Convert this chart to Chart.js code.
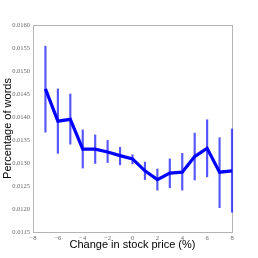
<!DOCTYPE html>
<html>
<head>
<meta charset="utf-8">
<script src="https://cdn.jsdelivr.net/npm/chart.js@4"></script>
<style>
  html, body { margin: 0; padding: 0; background: #fff; }
  #chart_box { width: 258px; height: 258px; }
</style>
</head>
<body>
<div id="chart_box"><canvas id="stock_chart"></canvas></div>
<script>
    // change in stock price (%)
    var price_change = [-7, -6, -5, -4, -3, -2, -1, 0, 1, 2, 3, 4, 5, 6, 7, 8];
    // mean share of words
    var word_pct = [0.01461, 0.01391, 0.01395, 0.01330, 0.01330, 0.01324, 0.01316, 0.01309,
                    0.01283, 0.01264, 0.01278, 0.01280, 0.01314, 0.01332, 0.01280, 0.01283];
    // error bar ends
    var err_low = [0.01367, 0.01321, 0.01341, 0.01289, 0.01299, 0.01301, 0.01296, 0.01298,
                   0.01264, 0.01241, 0.01246, 0.01241, 0.01263, 0.01270, 0.01203, 0.01193];
    var err_high = [0.01554, 0.01461, 0.01450, 0.01372, 0.01361, 0.01349, 0.01334, 0.01318,
                    0.01302, 0.01287, 0.01309, 0.01321, 0.01365, 0.01394, 0.01355, 0.01374];

    var x_ticks = [-8, -6, -4, -2, 0, 2, 4, 6, 8];
    var y_ticks = [0.0115, 0.0120, 0.0125, 0.0130, 0.0135, 0.0140, 0.0145, 0.0150, 0.0155, 0.0160];

    var line_points = price_change.map(function(x, i) { return {x: x, y: word_pct[i]}; });
    var err_points = price_change.map(function(x, i) { return {x: x, y: [err_low[i], err_high[i]]}; });

    var tick_font = {family: "'Liberation Serif', serif", size: 6.5};
    var title_font = {family: "'Liberation Sans', Arial, sans-serif", size: 11};

    // grey frame round the plot area, under the marks
    const frame_plugin = {
        id: 'frame',
        beforeDatasetsDraw(chart) {
            const a = chart.chartArea;
            const ctx = chart.ctx;
            ctx.save();
            ctx.strokeStyle = '#b4b4b4';
            ctx.lineWidth = 1;
            ctx.strokeRect(Math.round(a.left) + 0.5, Math.round(a.top) + 0.5,
                           Math.round(a.right - a.left), Math.round(a.bottom - a.top));
            ctx.restore();
        }
    };

    let chartCanvas = document.getElementById('stock_chart').getContext('2d');
    let chartObject = new Chart(chartCanvas, {
        data: {
            datasets: [{
                type: 'line',
                label: 'mean',
                data: line_points,
                borderColor: '#0000ff',
                borderWidth: 3.2,
                pointRadius: 0,
                fill: false,
                tension: 0,
                clip: false,
                order: 1,
            }, {
                type: 'bar',
                label: 'error',
                data: err_points,
                backgroundColor: 'rgba(30, 30, 255, 0.75)',
                barThickness: 1.5,
                clip: false,
                order: 2,
            }],
        },
        options: {
            responsive: true,
            maintainAspectRatio: false,
            animation: false,
            layout: {padding: {top: 25, right: 26, bottom: 6, left: 0}},
            plugins: {
                legend: {display: false},
                tooltip: {enabled: false},
            },
            scales: {
                x: {
                    type: 'linear',
                    min: -8,
                    max: 8,
                    offset: false,
                    afterBuildTicks: function(scale) {
                        scale.ticks = x_ticks.map(function(v) { return {value: v}; });
                    },
                    afterFit: function(scale) { scale.height = 20; },
                    grid: {display: false, drawTicks: false},
                    border: {display: false},
                    ticks: {
                        font: tick_font,
                        color: '#666',
                        padding: 2,
                        maxRotation: 0,
                        callback: function(v) { return v < 0 ? '\u2212' + Math.abs(v) : String(v); }
                    },
                    title: {
                        display: true,
                        text: 'Change in stock price (%)',
                        font: title_font,
                        color: '#000',
                        padding: {top: 0, bottom: 0},
                    },
                },
                y: {
                    min: 0.0115,
                    max: 0.0160,
                    afterBuildTicks: function(scale) {
                        scale.ticks = y_ticks.map(function(v) { return {value: v}; });
                    },
                    afterFit: function(scale) { scale.width = 33; },
                    grid: {display: false, drawTicks: false},
                    border: {display: false},
                    ticks: {
                        font: tick_font,
                        color: '#666',
                        padding: 3,
                        callback: function(v) { return v.toFixed(4); }
                    },
                    title: {
                        display: true,
                        text: 'Percentage of words',
                        font: title_font,
                        color: '#000',
                        padding: {top: 1, bottom: 0},
                    },
                },
            },
        },
        plugins: [frame_plugin],
    });
</script>
</body>
</html>
